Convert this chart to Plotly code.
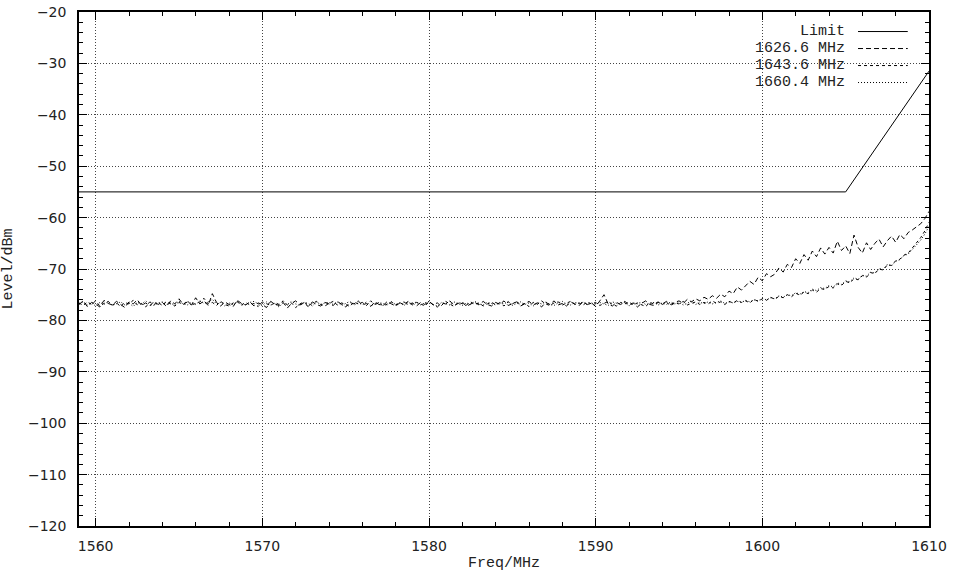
import plotly.graph_objects as go

# Frequency grid (MHz), 0.25 MHz spacing, rows of 5 MHz
freq = [
    1559.00, 1559.25, 1559.50, 1559.75, 1560.00, 1560.25, 1560.50, 1560.75, 1561.00, 1561.25,
    1561.50, 1561.75, 1562.00, 1562.25, 1562.50, 1562.75, 1563.00, 1563.25, 1563.50, 1563.75,
    1564.00, 1564.25, 1564.50, 1564.75, 1565.00, 1565.25, 1565.50, 1565.75, 1566.00, 1566.25,
    1566.50, 1566.75, 1567.00, 1567.25, 1567.50, 1567.75, 1568.00, 1568.25, 1568.50, 1568.75,
    1569.00, 1569.25, 1569.50, 1569.75, 1570.00, 1570.25, 1570.50, 1570.75, 1571.00, 1571.25,
    1571.50, 1571.75, 1572.00, 1572.25, 1572.50, 1572.75, 1573.00, 1573.25, 1573.50, 1573.75,
    1574.00, 1574.25, 1574.50, 1574.75, 1575.00, 1575.25, 1575.50, 1575.75, 1576.00, 1576.25,
    1576.50, 1576.75, 1577.00, 1577.25, 1577.50, 1577.75, 1578.00, 1578.25, 1578.50, 1578.75,
    1579.00, 1579.25, 1579.50, 1579.75, 1580.00, 1580.25, 1580.50, 1580.75, 1581.00, 1581.25,
    1581.50, 1581.75, 1582.00, 1582.25, 1582.50, 1582.75, 1583.00, 1583.25, 1583.50, 1583.75,
    1584.00, 1584.25, 1584.50, 1584.75, 1585.00, 1585.25, 1585.50, 1585.75, 1586.00, 1586.25,
    1586.50, 1586.75, 1587.00, 1587.25, 1587.50, 1587.75, 1588.00, 1588.25, 1588.50, 1588.75,
    1589.00, 1589.25, 1589.50, 1589.75, 1590.00, 1590.25, 1590.50, 1590.75, 1591.00, 1591.25,
    1591.50, 1591.75, 1592.00, 1592.25, 1592.50, 1592.75, 1593.00, 1593.25, 1593.50, 1593.75,
    1594.00, 1594.25, 1594.50, 1594.75, 1595.00, 1595.25, 1595.50, 1595.75, 1596.00, 1596.25,
    1596.50, 1596.75, 1597.00, 1597.25, 1597.50, 1597.75, 1598.00, 1598.25, 1598.50, 1598.75,
    1599.00, 1599.25, 1599.50, 1599.75, 1600.00, 1600.25, 1600.50, 1600.75, 1601.00, 1601.25,
    1601.50, 1601.75, 1602.00, 1602.25, 1602.50, 1602.75, 1603.00, 1603.25, 1603.50, 1603.75,
    1604.00, 1604.25, 1604.50, 1604.75, 1605.00, 1605.25, 1605.50, 1605.75, 1606.00, 1606.25,
    1606.50, 1606.75, 1607.00, 1607.25, 1607.50, 1607.75, 1608.00, 1608.25, 1608.50, 1608.75,
    1609.00, 1609.25, 1609.50, 1609.75, 1610.00,
]

level_1626_6 = [
    -76.9, -76.2, -77.3, -76.5, -76.8, -77.4, -76.1, -76.7, -77.0, -76.3, -76.9, -77.5, -76.4, -76.8, -76.0, -77.1, -76.6, -77.2, -76.3, -76.9,
    -76.5, -77.3, -76.2, -76.8, -75.8, -76.9, -76.4, -77.0, -75.6, -76.8, -76.2, -77.1, -74.8, -76.5, -77.2, -76.4, -76.9, -77.3, -76.1, -76.7,
    -77.0, -76.4, -77.2, -76.6, -76.9, -77.5, -76.3, -76.8, -77.1, -76.5, -77.6, -76.7, -76.2, -77.0, -76.6, -77.3, -76.4, -76.9, -77.2, -76.5,
    -76.8, -77.1, -76.3, -76.9, -77.4, -76.5, -76.8, -76.2, -77.0, -76.7, -77.3, -76.4, -76.9, -77.1, -76.3, -76.8, -77.2, -76.6, -76.4, -77.0,
    -76.6, -77.2, -76.5, -76.9, -76.3, -77.0, -77.4, -76.6, -76.8, -76.2, -77.1, -76.7, -76.4, -77.3, -76.8, -76.5, -77.0, -76.3, -76.9, -77.2,
    -76.5, -76.9, -76.2, -77.1, -76.7, -76.4, -77.2, -76.8, -76.3, -77.0, -76.6, -77.4, -76.5, -76.9, -76.2, -77.0, -76.7, -77.2, -76.4, -76.8,
    -77.1, -76.4, -76.9, -76.6, -77.3, -76.2, -75.0, -76.8, -77.2, -76.5, -76.9, -76.3, -77.0, -76.6, -77.4, -76.7, -76.2, -76.9, -77.1, -76.5,
    -76.8, -76.3, -76.9, -76.5, -76.2, -76.7, -75.9, -76.4, -75.8, -76.2, -75.5, -75.9, -75.2, -75.7, -74.9, -75.4, -74.3, -74.8, -73.5, -74.1,
    -73.2, -72.4, -73.0, -71.6, -72.3, -70.9, -71.5, -71.0, -69.8, -70.6, -69.1, -69.7, -68.0, -68.9, -67.2, -68.3, -66.5, -67.6, -65.9, -67.1,
    -65.8, -66.9, -64.6, -66.4, -65.5, -67.0, -63.4, -65.8, -66.9, -64.9, -66.2, -65.0, -64.2, -65.7, -64.5, -63.6, -64.8, -63.3, -64.1, -62.9,
    -62.4, -61.8, -61.2, -60.2, -58.8,
]

level_1643_6 = [
    -76.6, -77.1, -76.4, -76.9, -76.2, -77.2, -76.7, -76.3, -77.0, -76.6, -77.3, -76.5, -76.8, -76.1, -77.0, -76.7, -77.4, -76.4, -76.9, -76.5,
    -77.1, -76.3, -76.8, -77.2, -76.5, -76.9, -76.2, -77.0, -76.7, -76.4, -75.7, -76.8, -76.5, -77.1, -76.3, -76.9, -77.2, -76.6, -76.4, -77.0,
    -76.5, -77.0, -76.7, -77.3, -76.4, -76.8, -77.1, -76.5, -76.9, -76.2, -77.0, -76.6, -77.5, -76.8, -76.4, -77.1, -76.7, -76.3, -76.9, -77.2,
    -76.7, -76.3, -77.0, -76.6, -76.9, -77.3, -76.4, -76.8, -76.5, -77.1, -76.2, -76.9, -76.6, -77.2, -76.8, -76.4, -77.0, -76.6, -76.9, -76.3,
    -77.0, -76.5, -76.8, -77.2, -76.4, -76.9, -76.6, -77.1, -76.3, -76.8, -77.3, -76.5, -76.7, -77.0, -76.4, -76.9, -76.6, -77.2, -76.8, -76.5,
    -76.9, -76.6, -77.2, -76.4, -76.8, -76.3, -77.0, -76.7, -77.3, -76.5, -76.9, -76.2, -76.8, -77.1, -76.6, -76.4, -77.0, -76.7, -76.3, -76.9,
    -76.6, -77.0, -76.4, -76.8, -76.5, -77.1, -76.7, -76.3, -76.9, -77.2, -76.5, -76.8, -76.4, -77.0, -76.6, -76.9, -77.3, -76.5, -76.8, -76.4,
    -76.9, -76.5, -77.1, -76.6, -76.8, -76.3, -77.0, -76.7, -76.4, -76.9, -76.5, -76.8, -76.2, -76.7, -76.4, -76.9, -76.3, -76.6, -76.1, -76.5,
    -76.2, -76.6, -75.9, -76.3, -75.8, -76.1, -75.5, -75.9, -75.3, -75.6, -75.0, -75.4, -74.7, -75.1, -74.5, -74.8, -74.1, -74.5, -73.8, -74.0,
    -73.4, -73.7, -72.9, -73.2, -72.4, -72.7, -71.9, -72.1, -71.3, -71.6, -70.7, -70.9, -70.0, -70.2, -69.2, -69.3, -68.4, -68.1, -67.3, -66.9,
    -65.9, -65.1, -63.9, -62.6, -60.9,
]

level_1660_4 = [
    -76.8, -76.4, -77.0, -76.6, -77.2, -76.5, -76.9, -76.3, -77.1, -76.7, -76.4, -77.0, -76.6, -77.3, -76.5, -76.8, -76.2, -76.9, -77.1, -76.6,
    -76.4, -76.9, -76.6, -77.1, -76.3, -76.8, -77.0, -76.5, -76.9, -76.2, -76.7, -76.4, -75.9, -76.8, -76.5, -77.2, -76.6, -76.9, -76.3, -77.0,
    -76.9, -76.5, -76.3, -76.8, -77.1, -76.4, -77.0, -76.7, -77.4, -76.6, -76.9, -76.3, -76.8, -77.1, -76.5, -76.7, -77.2, -76.4, -76.9, -76.6,
    -76.5, -76.9, -76.4, -77.1, -76.7, -76.3, -77.0, -76.6, -76.9, -76.4, -77.2, -76.7, -76.5, -76.8, -77.0, -76.4, -76.9, -76.6, -77.1, -76.5,
    -76.8, -76.4, -77.0, -76.6, -76.3, -76.9, -77.2, -76.5, -76.8, -77.0, -76.4, -76.7, -77.1, -76.6, -76.9, -76.3, -76.8, -77.0, -76.5, -76.7,
    -77.0, -76.5, -76.8, -76.3, -77.1, -76.7, -76.4, -76.9, -76.6, -77.2, -76.5, -76.8, -76.4, -76.9, -77.1, -76.6, -76.3, -76.8, -77.0, -76.5,
    -76.7, -76.4, -77.0, -76.6, -76.9, -76.5, -76.8, -77.1, -76.4, -76.7, -76.9, -76.5, -77.2, -76.6, -76.8, -76.4, -76.9, -76.7, -76.5, -77.0,
    -76.6, -76.9, -76.4, -76.8, -76.5, -77.0, -76.6, -76.3, -76.9, -76.5, -76.7, -76.4, -76.8, -76.5, -76.2, -76.7, -76.4, -76.6, -76.3, -76.5,
    -76.1, -76.4, -76.0, -76.2, -75.7, -76.0, -75.6, -75.8, -75.2, -75.5, -75.0, -75.2, -74.6, -74.9, -74.4, -74.6, -73.9, -74.2, -73.6, -73.8,
    -73.2, -73.5, -72.7, -73.0, -72.3, -72.5, -71.7, -72.0, -71.2, -71.4, -70.6, -70.8, -69.9, -70.1, -69.1, -69.4, -68.5, -68.2, -67.4, -67.1,
    -66.2, -65.5, -64.4, -63.2, -61.7,
]

limit_freq = [1559.0, 1605.0, 1610.0]
limit_level = [-55.0, -55.0, -31.5]

series_names = ["Limit", "1626.6 MHz", "1643.6 MHz", "1660.4 MHz"]
series_dash = ["solid", "5px,3px", "3px,3px", "1px,2px"]

fig = go.Figure()
fig.add_trace(go.Scatter(x=limit_freq, y=limit_level, mode="lines", name=series_names[0],
                         line=dict(color="black", width=1, dash=series_dash[0])))
for name, ys, dash in zip(series_names[1:], [level_1626_6, level_1643_6, level_1660_4], series_dash[1:]):
    fig.add_trace(go.Scatter(x=freq, y=ys, mode="lines", name=name,
                             line=dict(color="black", width=1, dash=dash)))

# Custom legend (text right-aligned, sample on the right, gnuplot style)
legend_y = [0.962, 0.9289, 0.8958, 0.8628]
for name, dash, yy in zip(series_names, series_dash, legend_y):
    fig.add_annotation(x=0.9035, y=yy, xref="paper", yref="paper", text=name,
                       showarrow=False, xanchor="right", yanchor="middle",
                       font=dict(family="Liberation Mono", size=15, color="#222222"))
    fig.add_shape(type="line", xref="paper", yref="paper", x0=0.9165, x1=0.975, y0=yy, y1=yy,
                  line=dict(color="black", width=1, dash=dash))

axis_common = dict(
    showline=True, linecolor="black", linewidth=1.5, mirror="allticks",
    ticks="inside", ticklen=8, tickwidth=1, tickcolor="black",
    showgrid=True, gridcolor="#444444", griddash="1px,2px", gridwidth=1,
    zeroline=False, automargin=False, ticklabeloverflow="allow",
    tickfont=dict(family="DejaVu Sans", size=14, color="#222222"),
)

fig.update_xaxes(
    range=[1559, 1610], tick0=1560, dtick=10,
    minor=dict(dtick=2, tick0=1560, ticks="inside", ticklen=4, tickcolor="black", showgrid=False),
    title=dict(text="Freq/MHz", font=dict(family="Liberation Mono", size=15, color="#222222"), standoff=4),
    ticklabelstandoff=6,
    **axis_common,
)
fig.update_yaxes(
    range=[-120, -20], tick0=-120, dtick=10,
    minor=dict(dtick=2, ticks="inside", ticklen=4, tickcolor="black", showgrid=False),
    title=dict(text="Level/dBm", font=dict(family="Liberation Mono", size=15, color="#222222"), standoff=12),
    ticklabelstandoff=8,
    **axis_common,
)

fig.update_layout(
    width=957, height=577,
    margin=dict(l=79, r=28, t=12, b=51),
    plot_bgcolor="white", paper_bgcolor="white",
    showlegend=False,
)

# Remove the default page margin so the figure fills the window exactly
fig.write_html("out.html", config={"displayModeBar": False},
               post_script="document.body.style.margin='0';")
